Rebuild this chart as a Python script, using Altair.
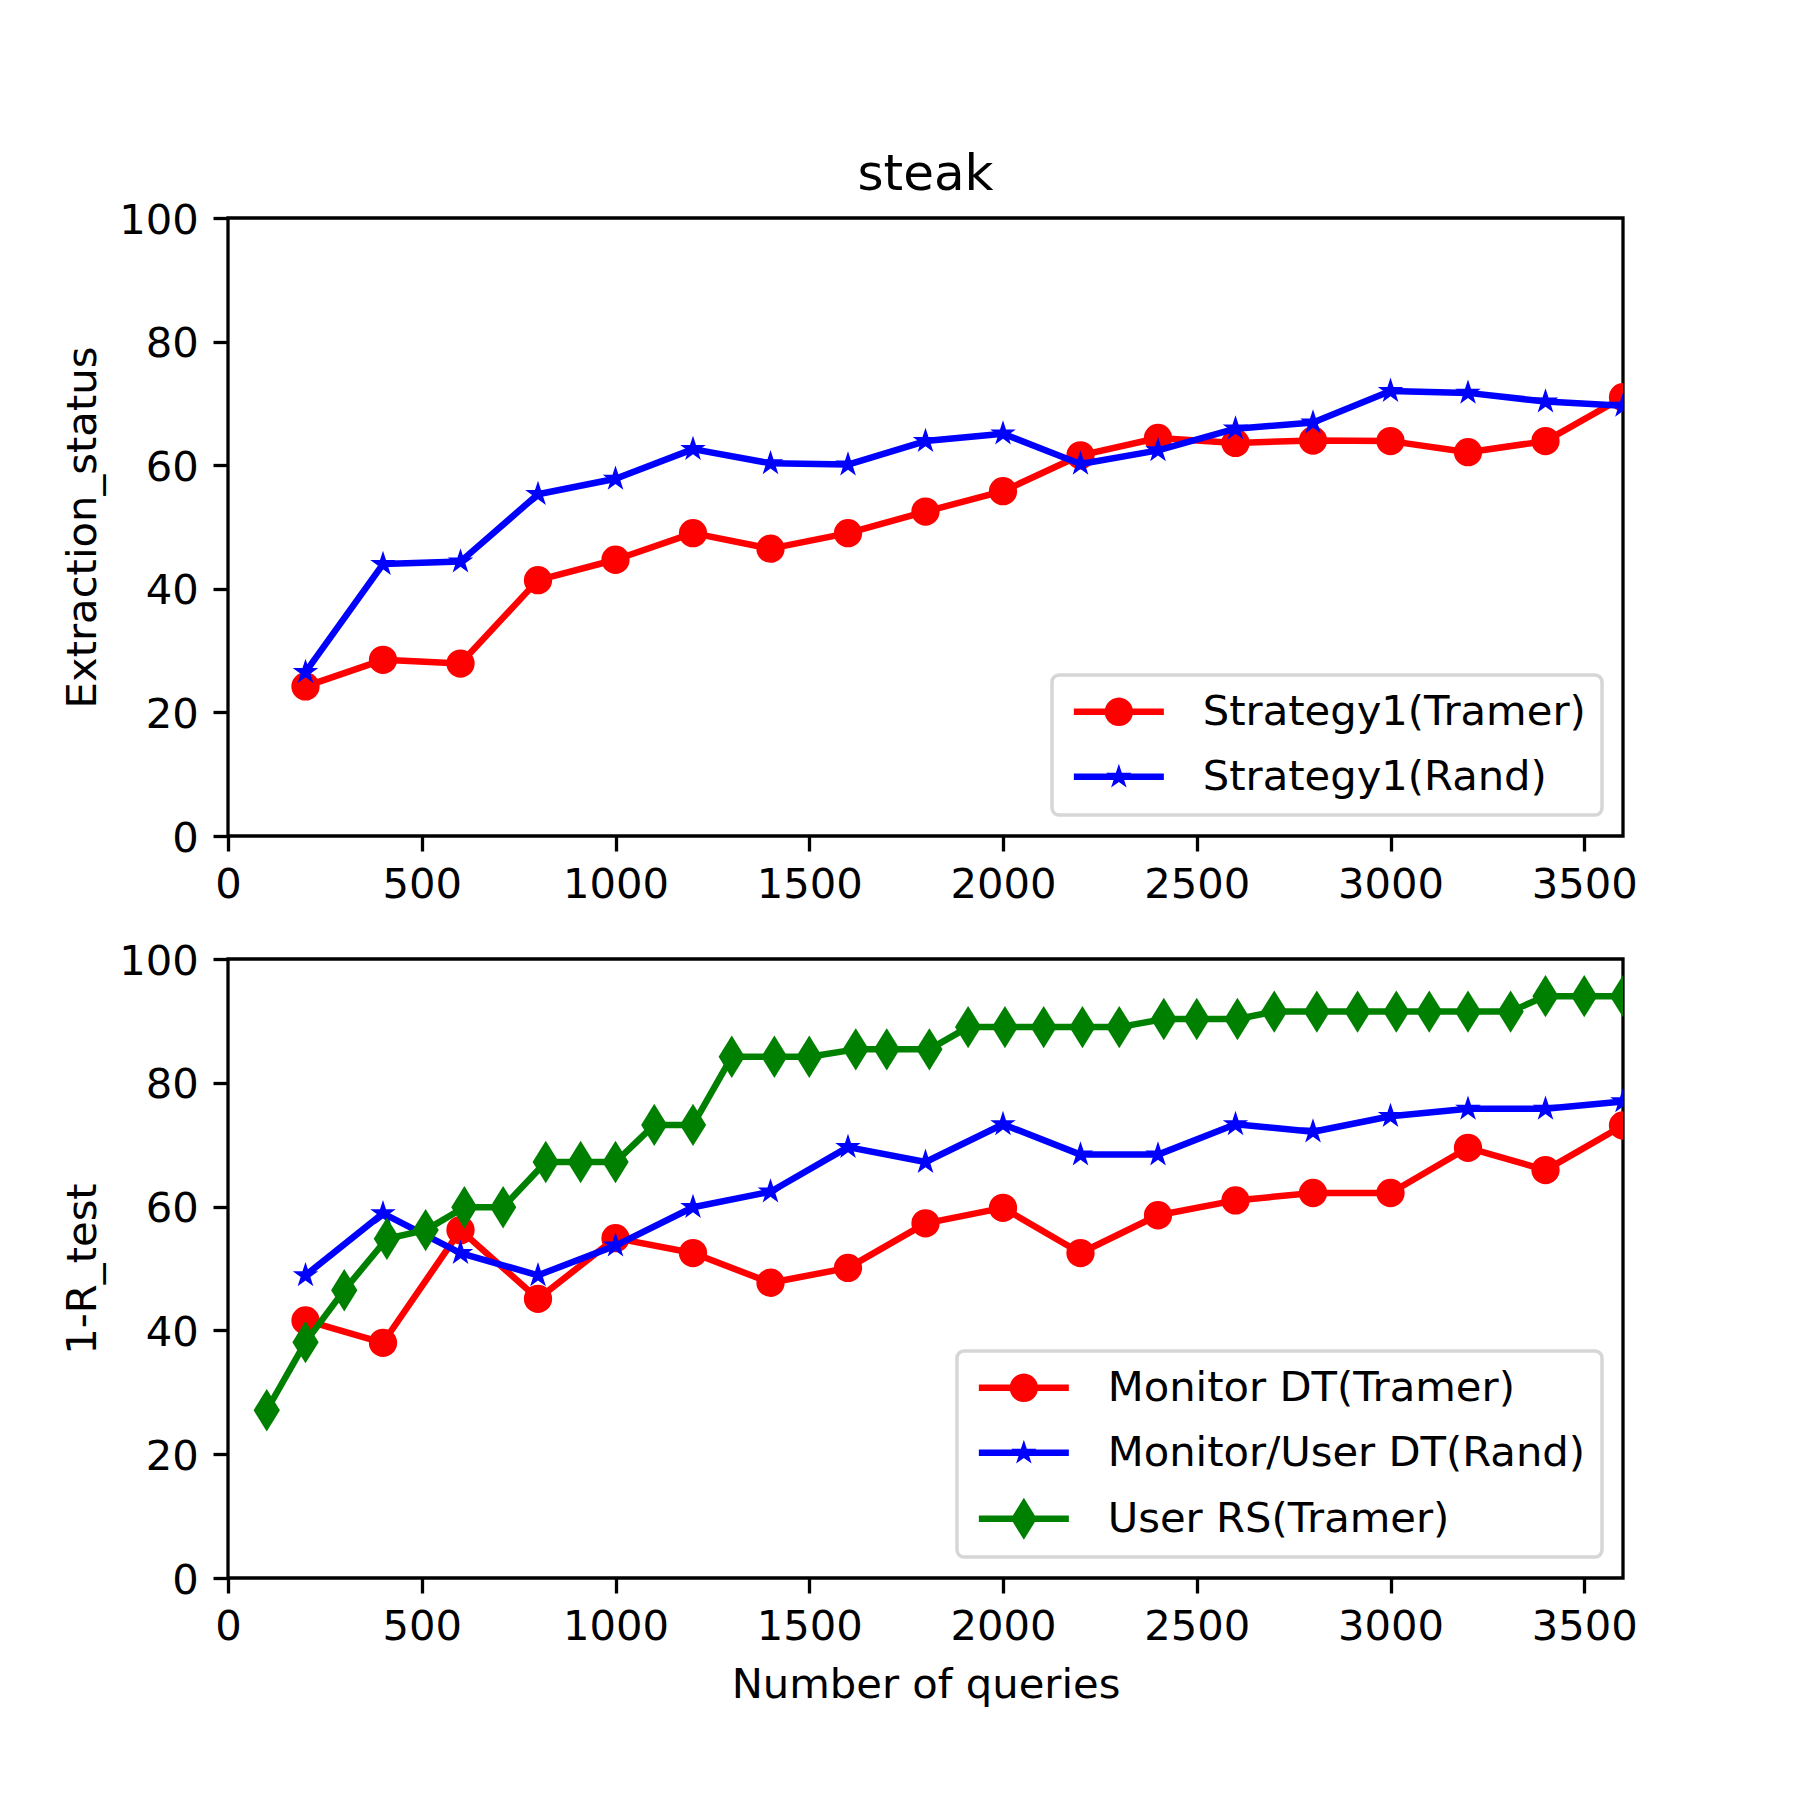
import math
import altair as alt
import pandas as pd

# ---------------- data ----------------
x_queries = [200, 400, 600, 800, 1000, 1200, 1400, 1600, 1800, 2000,
             2200, 2400, 2600, 2800, 3000, 3200, 3400, 3600]

top_tramer = [24.2, 28.5, 27.9, 41.4, 44.7, 49.0, 46.5, 49.0, 52.5, 55.8,
              61.6, 64.4, 63.6, 64.0, 63.9, 62.1, 63.9, 71.0]
top_rand = [26.5, 44.0, 44.4, 55.3, 57.8, 62.6, 60.3, 60.1, 63.9, 65.1,
            60.2, 62.4, 65.9, 66.9, 72.0, 71.7, 70.3, 69.6]

bot_monitor_tramer = [41.6, 38.0, 56.2, 45.1, 54.9, 52.5, 47.7, 50.1, 57.3, 59.8,
                      52.5, 58.6, 61.0, 62.2, 62.2, 69.5, 65.9, 73.1]
bot_rand = [48.9, 58.9, 52.5, 48.9, 53.7, 59.9, 62.4, 69.6, 67.2, 73.3,
            68.4, 68.4, 73.3, 72.1, 74.6, 75.8, 75.8, 77.0]

x_user = [100, 200, 300, 410, 510, 610, 710, 820, 910, 1000, 1100, 1200,
          1300, 1410, 1500, 1620, 1700, 1810, 1910, 2005, 2105, 2205, 2300,
          2415, 2500, 2605, 2700, 2810, 2915, 3015, 3100, 3200, 3310, 3400,
          3500, 3600]
bot_user_rs = [27.1, 38.1, 46.5, 54.8, 56.2, 59.9, 59.9, 67.2, 67.2, 67.2,
               73.2, 73.2, 84.2, 84.2, 84.2, 85.4, 85.4, 85.4, 89.0, 89.0,
               89.0, 89.0, 89.0, 90.3, 90.3, 90.3, 91.5, 91.5, 91.5, 91.5,
               91.5, 91.5, 91.5, 94.0, 94.0, 94.0]

top_names = ["Strategy1(Tramer)", "Strategy1(Rand)"]
bot_names = ["Monitor DT(Tramer)", "Monitor/User DT(Rand)", "User RS(Tramer)"]
x_ticks = [0, 500, 1000, 1500, 2000, 2500, 3000, 3500]
y_ticks = [0, 20, 40, 60, 80, 100]

top_df = pd.DataFrame(
    [{"q": x, "v": v, "series": top_names[0]} for x, v in zip(x_queries, top_tramer)]
    + [{"q": x, "v": v, "series": top_names[1]} for x, v in zip(x_queries, top_rand)]
)
bot_df = pd.DataFrame(
    [{"q": x, "v": v, "series": bot_names[0]} for x, v in zip(x_queries, bot_monitor_tramer)]
    + [{"q": x, "v": v, "series": bot_names[1]} for x, v in zip(x_queries, bot_rand)]
    + [{"q": x, "v": v, "series": bot_names[2]} for x, v in zip(x_user, bot_user_rs)]
)

# ---------------- styling ----------------
FONT = "DejaVu Sans"
RED, BLUE, GREEN = "#ff0000", "#0000ff", "#008000"
W, H_TOP, H_BOT = 1395, 618, 619
LW = 6.5


def fmt(v):
    return f"{v:.4f}".rstrip("0").rstrip(".")


def star_pts(cx, r, ri_ratio=0.382):
    pts = []
    for k in range(10):
        ang = math.radians(-90 + 36 * k)
        rr = r if k % 2 == 0 else r * ri_ratio
        pts.append((cx + rr * math.cos(ang), rr * math.sin(ang)))
    return "M" + "L".join(f"{fmt(a)},{fmt(b)}" for a, b in pts) + "Z"


def circle_pts(cx, r, n=28):
    pts = [(cx + r * math.cos(2 * math.pi * k / n), r * math.sin(2 * math.pi * k / n))
           for k in range(n)]
    return "M" + "L".join(f"{fmt(a)},{fmt(b)}" for a, b in pts) + "Z"


STAR = star_pts(0, 1.0)
DIAMOND = "M0,-1L0.62,0L0,1L-0.62,0Z"

# legend symbols (line + marker): unit = 15px (symbolSize 900), marker centred at x=2
LINE = "M-1,-0.215L5,-0.215L5,0.215L-1,0.215Z"
LEG_CIRCLE = LINE + circle_pts(2, 0.95)
LEG_STAR = LINE + star_pts(2, 0.88)
LEG_DIAMOND = LINE + "M2,-1.4L2.867,0L2,1.4L1.133,0Z"


def make_legend():
    return alt.Legend(
        title=None, orient="bottom-right", offset=21,
        labelFont=FONT, labelFontSize=41.7, labelColor="black", labelLimit=2000,
        symbolSize=900, symbolStrokeWidth=0, symbolOpacity=1,
        labelOffset=93, padding=16, rowPadding=22,
        cornerRadius=7, fillColor="#ffffff", strokeColor="#d6d6d6",
    )


def x_enc(title):
    return alt.X("q:Q", scale=alt.Scale(domain=[0, 3600], nice=False, zero=False),
                 axis=alt.Axis(values=x_ticks, title=title, labelFlush=False, format="d",
                               labelPadding=13.5, titlePadding=15.8))


def y_enc(title):
    return alt.Y("v:Q", scale=alt.Scale(domain=[0, 100], nice=False),
                 axis=alt.Axis(values=y_ticks, title=title, labelPadding=14.7, format="d",
                               labelOffset=2, titlePadding=14.2))


def panel(df, names, colors, shapes, sizes, leg_paths, xtitle, ytitle, height, title=None):
    cscale = alt.Scale(domain=names, range=colors)
    layers = []
    for n, shp, sz in zip(names, shapes, sizes):
        base = alt.Chart(df).transform_filter(alt.datum.series == n).encode(
            x=x_enc(xtitle), y=y_enc(ytitle))
        line = base.mark_line(strokeWidth=LW, clip=True, strokeJoin="round").encode(
            color=alt.Color("series:N", scale=cscale, legend=None))
        pts = base.mark_point(filled=True, opacity=1, strokeWidth=0, shape=shp, size=sz,
                              clip=True).encode(
            color=alt.Color("series:N", scale=cscale, legend=None))
        layers += [line, pts]
    # legend carrier: no rows drawn, legend comes from the explicit scale domains
    leg = alt.Chart(df).transform_filter(alt.datum.v < -1000).mark_point(
        filled=True, clip=True).encode(
        x=x_enc(xtitle), y=y_enc(ytitle),
        color=alt.Color("series:N", scale=cscale, legend=make_legend()),
        shape=alt.Shape("series:N", scale=alt.Scale(domain=names, range=leg_paths),
                        legend=make_legend()),
    )
    layers.append(leg)
    props = dict(width=W, height=height)
    if title is not None:
        props["title"] = alt.TitleParams(title, font=FONT, fontSize=50, fontWeight="normal",
                                         color="black", anchor="middle", frame="group",
                                         offset=0)
    return alt.layer(*layers).resolve_legend(
        color="independent", shape="independent").properties(**props)


def build(with_sw):
    top = panel(top_df, top_names, [RED, BLUE], ["circle", STAR], [800, 720],
                [LEG_CIRCLE, LEG_STAR], None, "Extraction_status", H_TOP, title="steak")
    bottom = panel(bot_df, bot_names, [RED, BLUE, GREEN], ["circle", STAR, DIAMOND],
                   [800, 720, 1800], [LEG_CIRCLE, LEG_STAR, LEG_DIAMOND],
                   "Number of queries", "1-R_test", H_BOT)
    ch = alt.vconcat(top, bottom, spacing=123, bounds="flush").resolve_scale(
        color="independent", shape="independent").resolve_legend(
        color="independent", shape="independent").properties(
        padding={"left": 52, "top": 140, "right": 20, "bottom": 20},
        background="white",
    ).configure_view(stroke="black", strokeWidth=3.3).configure_axis(
        labelFont=FONT, labelFontSize=41.7, labelColor="black",
        titleFont=FONT, titleFontSize=41.7, titleFontWeight="normal", titleColor="black",
        tickSize=15, tickWidth=3.3, tickColor="black", domain=False, grid=False,
    )
    if with_sw:
        ch = ch.configure_legend(strokeColor="#d6d6d6", strokeWidth=3.5)
    else:
        ch = ch.configure_legend(strokeColor="#d6d6d6")
    ch.to_dict()
    return ch


try:
    chart = build(True)
except Exception:
    chart = build(False)

chart.save("out.html", embed_options={"renderer": "svg", "actions": False})
